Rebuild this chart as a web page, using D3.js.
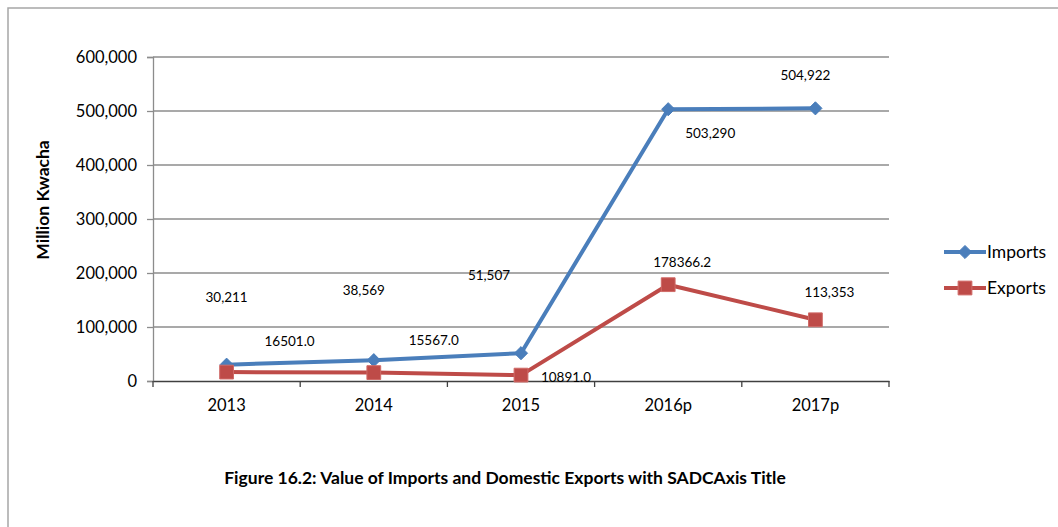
<!DOCTYPE html>
<html>
<head>
<meta charset="utf-8">
<script src="https://cdn.jsdelivr.net/npm/d3@7"></script>
<style>
  body { margin: 0; background: #fff; }
  text { font-family: Lato, "Open Sans", sans-serif; fill: #000; }
</style>
</head>
<body>
<div class="vis-container"></div>
<script>
const years = ['2013', '2014', '2015', '2016p', '2017p'];
const imports = [30211, 38569, 51507, 503290, 504922];
const exports = [16501.0, 15567.0, 10891.0, 178366.2, 113353];
const importLabels = ['30,211', '38,569', '51,507', '503,290', '504,922'];
const exportLabels = ['16501.0', '15567.0', '10891.0', '178366.2', '113,353'];
const yTicks = [0, 100000, 200000, 300000, 400000, 500000, 600000];

// label placement as Excel left it (pixel nudges from the point)
const importNudge = [[0, -67], [-10, -70], [-32, -78], [42, 24], [-10, -33]];
const exportNudge = [[63, -31], [60, -32], [45, 2], [14, -22], [14, -28]];

document.addEventListener('DOMContentLoaded', () => {
  buildChart();
});

function buildChart() {
  const width = 1058;
  const height = 527;
  const margin = {left: 153, right: 169, top: 57, bottom: 146};
  const blue = '#4a7ebb';
  const red = '#be4b48';

  const svg = d3.select('.vis-container').append('svg')
    .attr('width', width)
    .attr('height', height);

  // outer frame (only left and top edges fall inside the picture)
  svg.append('path')
    .attr('d', `M8,${height} V8 H${width}`)
    .attr('fill', 'none')
    .attr('stroke', '#a6a6a6')
    .attr('stroke-width', 1.5);

  const x = d3.scaleBand().domain(years).range([margin.left, width - margin.right]);
  const y = d3.scaleLinear().domain([0, 600000]).range([height - margin.bottom, margin.top]);
  const cx = d => x(d) + x.bandwidth() / 2;

  // gridlines
  svg.selectAll('.grid').data(yTicks.slice(1))
    .enter().append('line')
      .attr('class', 'grid')
      .attr('x1', margin.left)
      .attr('x2', width - margin.right)
      .attr('y1', d => y(d))
      .attr('y2', d => y(d))
      .attr('stroke', '#8c8c8c')
      .attr('stroke-width', 1.3);

  // y axis
  const yAxis = svg.append('g')
    .attr('transform', `translate(${margin.left},0)`)
    .call(d3.axisLeft(y).tickValues(yTicks).tickSize(6).tickPadding(10)
      .tickFormat(d3.format(',')));
  yAxis.select('.domain').attr('stroke', '#8c8c8c').attr('stroke-width', 1.3);
  yAxis.selectAll('.tick line').attr('stroke', '#8c8c8c').attr('stroke-width', 1.3);
  yAxis.selectAll('.tick text').style('font-size', '16.5px').attr('dy', '0.35em');

  // x axis
  const xAxis = svg.append('g')
    .attr('transform', `translate(0,${y(0)})`)
    .call(d3.axisBottom(x).tickSize(0).tickPadding(18));
  xAxis.select('.domain').attr('stroke', '#404040').attr('stroke-width', 1.5);
  xAxis.selectAll('.tick text').style('font-size', '16.5px');
  svg.selectAll('.xtick').data(years.concat(['end']))
    .enter().append('line')
      .attr('class', 'xtick')
      .attr('x1', (d, i) => margin.left + i * x.step())
      .attr('x2', (d, i) => margin.left + i * x.step())
      .attr('y1', y(0))
      .attr('y2', y(0) + 6)
      .attr('stroke', '#404040')
      .attr('stroke-width', 1.3);

  // series lines
  const line = d3.line().x((d, i) => cx(years[i])).y(d => y(d));
  svg.append('path').datum(imports)
    .attr('d', line)
    .attr('fill', 'none')
    .attr('stroke', blue)
    .attr('stroke-width', 4)
    .attr('stroke-linejoin', 'round');
  svg.append('path').datum(exports)
    .attr('d', line)
    .attr('fill', 'none')
    .attr('stroke', red)
    .attr('stroke-width', 4)
    .attr('stroke-linejoin', 'round');

  const diamond = d3.symbol().type(d3.symbolDiamond2).size(110);
  const square = d3.symbol().type(d3.symbolSquare).size(190);

  svg.selectAll('.imp-marker').data(imports)
    .enter().append('path')
      .attr('class', 'imp-marker')
      .attr('d', diamond)
      .attr('transform', (d, i) => `translate(${cx(years[i])},${y(d)})`)
      .attr('fill', blue)
      .attr('stroke', blue)
      .attr('stroke-width', 1);
  svg.selectAll('.exp-marker').data(exports)
    .enter().append('path')
      .attr('class', 'exp-marker')
      .attr('d', square)
      .attr('transform', (d, i) => `translate(${cx(years[i])},${y(d)})`)
      .attr('fill', red)
      .attr('stroke', '#d06a67')
      .attr('stroke-width', 1);

  // data labels
  svg.selectAll('.imp-label').data(imports)
    .enter().append('text')
      .attr('class', 'imp-label')
      .attr('x', (d, i) => cx(years[i]) + importNudge[i][0])
      .attr('y', (d, i) => y(d) + importNudge[i][1])
      .attr('dy', '0.35em')
      .attr('text-anchor', 'middle')
      .style('font-size', '13.5px')
      .text((d, i) => importLabels[i]);
  svg.selectAll('.exp-label').data(exports)
    .enter().append('text')
      .attr('class', 'exp-label')
      .attr('x', (d, i) => cx(years[i]) + exportNudge[i][0])
      .attr('y', (d, i) => y(d) + exportNudge[i][1])
      .attr('dy', '0.35em')
      .attr('text-anchor', 'middle')
      .style('font-size', '13.5px')
      .text((d, i) => exportLabels[i]);

  // y axis title
  svg.append('text')
    .attr('transform', 'translate(43, 200) rotate(-90)')
    .attr('dy', '0.35em')
    .attr('text-anchor', 'middle')
    .style('font-size', '17.5px')
    .style('font-weight', 'bold')
    .text('Million Kwacha');

  // legend
  const legend = svg.append('g').attr('transform', 'translate(944, 252)');
  const entries = [
    {name: 'Imports', color: blue, symbol: diamond, stroke: blue},
    {name: 'Exports', color: red, symbol: square, stroke: '#d06a67'}
  ];
  entries.forEach((e, i) => {
    const g = legend.append('g').attr('transform', `translate(0, ${i * 36})`);
    g.append('line')
      .attr('x1', 0).attr('x2', 42)
      .attr('stroke', e.color)
      .attr('stroke-width', 4);
    g.append('path')
      .attr('d', e.symbol)
      .attr('transform', 'translate(21,0)')
      .attr('fill', e.color)
      .attr('stroke', e.stroke);
    g.append('text')
      .attr('x', 43)
      .attr('dy', '0.35em')
      .style('font-size', '17.5px')
      .text(e.name);
  });

  // caption
  svg.append('text')
    .attr('x', 505)
    .attr('y', 478)
    .attr('dy', '0.35em')
    .attr('text-anchor', 'middle')
    .style('font-size', '17.5px')
    .style('font-weight', 'bold')
    .text('Figure 16.2: Value of Imports and Domestic Exports with SADCAxis Title');
}
</script>
</body>
</html>
